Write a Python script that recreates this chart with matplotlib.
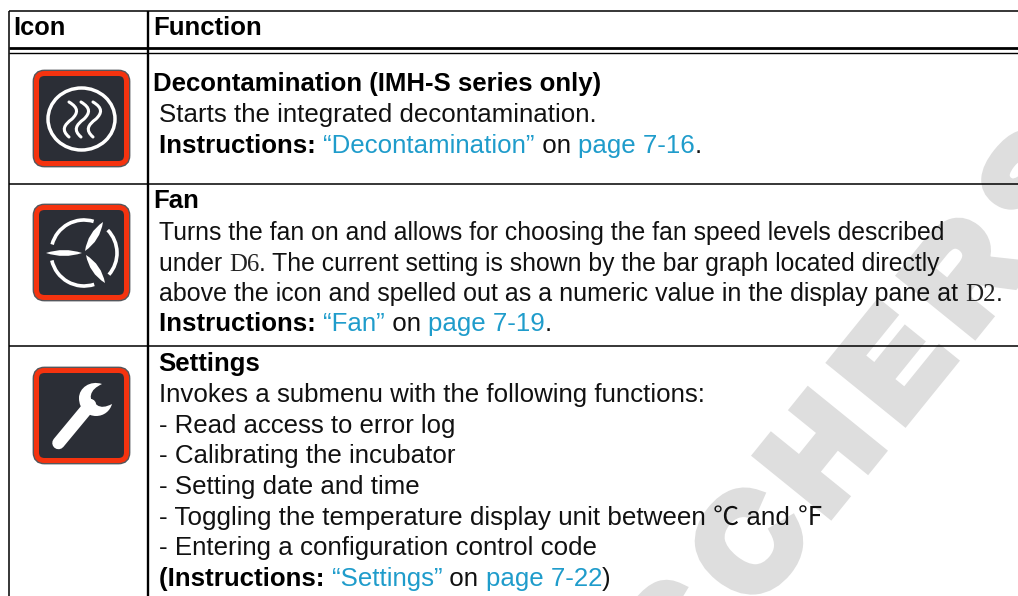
import numpy as np
import matplotlib
matplotlib.use('Agg')
import matplotlib.pyplot as plt
import matplotlib.patheffects as pe
from matplotlib.patches import FancyBboxPatch, Ellipse, Arc, PathPatch
from matplotlib.path import Path

# texto das linhas: (trecho, estilo)
header_labels = ["Icon", "Function"]

linhas_decon = [
    [("Decontamination (IMH-S series only)", "b")],
    [("Starts the integrated decontamination.", "n")],
    [("Instructions: ", "b"), ("\u201cDecontamination\u201d", "l"), (" on ", "n"), ("page 7-16", "l"), (".", "n")],
]
linhas_fan = [
    [("Fan", "b")],
    [("Turns the fan on and allows for choosing the fan speed levels described", "n")],
    [("under ", "n"), ("D6", "s"), (". The current setting is shown by the bar graph located directly", "n")],
    [("above the icon and spelled out as a numeric value in the display pane at ", "n"), ("D2", "s"), (".", "n")],
    [("Instructions: ", "b"), ("\u201cFan\u201d", "l"), (" on ", "n"), ("page 7-19", "l"), (".", "n")],
]
linhas_settings = [
    [("Settings", "b")],
    [("Invokes a submenu with the following functions:", "n")],
    [("- Read access to error log", "n")],
    [("- Calibrating the incubator", "n")],
    [("- Setting date and time", "n")],
    [("- Toggling the temperature display unit between \u2103 and \u2109", "n")],
    [("- Entering a configuration control code", "n")],
    [("(Instructions: ", "b"), ("\u201cSettings\u201d", "l"), (" on ", "n"), ("page 7-22", "l"), (")", "n")],
]
marca_letras = ["S", "C", "H", "E", "R", "S"]

# posicoes
y_decon = [91, 122, 153]
y_fan = [208, 240, 271, 301, 331]
y_settings = [371, 402, 433, 463, 494, 525, 555, 586]
x_decon = [153.5, 159, 159]
x_fan = [153.5, 159, 159, 159, 159]
x_settings = [158.5, 159, 159, 159, 159, 159, 159, 159]
tam_decon = [18.55, 18.6, 18.6]
tam_fan = [18.5, 17.8, 17.82, 18.02, 18.65]
tam_settings = [18.55, 18.6, 18.55, 18.6, 18.6, 18.72, 18.6, 18.6]
marca_x = [684, 756, 828, 900, 972, 1044]
marca_y = [640, 550, 460, 370, 280, 190]

LINK = '#1f9ccb'
estilos = {
    'n': dict(family=['Liberation Sans', 'Noto Sans CJK SC', 'DejaVu Sans'], color='#111111'),
    'b': dict(family='Liberation Sans', color='black', weight='bold'),
    'l': dict(family='Liberation Sans', color=LINK),
    's': dict(family='Liberation Serif', color='#222222'),
}

fig = plt.figure(figsize=(10.18, 5.96), dpi=100)
ax = fig.add_axes([0, 0, 1, 1])
ax.set_xlim(0, 1018)
ax.set_ylim(596, 0)
ax.axis('off')

# marca d'agua
for letra, mx, my in zip(marca_letras, marca_x, marca_y):
    ax.text(mx, my, letra, rotation=51, rotation_mode='anchor', ha='center', va='center',
            family='Liberation Sans', weight='bold', fontsize=95, color='#dedede', zorder=0,
            path_effects=[pe.withStroke(linewidth=9, foreground='#dedede', joinstyle='miter')])

# grade da tabela
for y, lw in [(11, 1.1), (48, 2.0), (53, 1.0), (184, 1.1), (346, 1.1)]:
    ax.plot([9, 1018], [y, y], color='black', lw=lw, solid_capstyle='butt', zorder=2)
ax.plot([9, 9], [11, 596], color='black', lw=1.1, solid_capstyle='butt', zorder=2)
ax.plot([148, 148], [11, 596], color='black', lw=1.7, solid_capstyle='butt', zorder=2)

ax.text(13, 35, header_labels[0], fontsize=18.3, **estilos['b'], zorder=3)
ax.text(153, 35, header_labels[1], fontsize=18.5, **estilos['b'], zorder=3)

renderer = fig.canvas.get_renderer()


def escreve(x, y, trechos, tam):
    for trecho, est in trechos:
        t = ax.text(x, y, trecho, fontsize=tam, va='baseline', zorder=3, **estilos[est])
        # largura com os espacos das pontas (mede com pontos em volta)
        t.set_text('|' + trecho + '|')
        w1 = t.get_window_extent(renderer).width
        t.set_text('||')
        w2 = t.get_window_extent(renderer).width
        t.set_text(trecho)
        x += w1 - w2


for bloco, xs, ys, tams in [(linhas_decon, x_decon, y_decon, tam_decon),
                            (linhas_fan, x_fan, y_fan, tam_fan),
                            (linhas_settings, x_settings, y_settings, tam_settings)]:
    for trechos, x, y, tam in zip(bloco, xs, ys, tams):
        escreve(x, y, trechos, tam)


def caixa(cy):
    cx = 81.5
    ax.add_patch(FancyBboxPatch((cx - 45, cy - 45), 90, 90, boxstyle='round,pad=0,rounding_size=8',
                                fc='#2b2e36', ec='#55575c', lw=5.6, zorder=3))
    ax.add_patch(FancyBboxPatch((cx - 45, cy - 45), 90, 90, boxstyle='round,pad=0,rounding_size=8',
                                fc='#2b2e36', ec='#f5330f', lw=3.6, zorder=4))


# icone 1: circulo e ondas
caixa(118.5)
ax.add_patch(Ellipse((81.5, 119), 67, 62, fc='none', ec='white', lw=2.5, zorder=5))
for x in [69, 81, 93]:
    verts = [(x, 102), (x + 10, 108), (x + 9, 113), (x + 3, 119),
             (x - 5, 125), (x - 8, 130), (x, 137)]
    codes = [Path.MOVETO, Path.CURVE4, Path.CURVE4, Path.CURVE4, Path.CURVE4, Path.CURVE4, Path.CURVE4]
    ax.add_patch(PathPatch(Path(verts, codes), fc='none', ec='white', lw=2.2, capstyle='round', zorder=5))

# icone 2: ventilador (pas em forma de lente)
caixa(252.5)
pas = [((85, 251), (103, 222), 7.5), ((82, 253), (46, 253), 6), ((86, 255), (105, 283), 7.5)]
for (x0, y0), (x1, y1), larg in pas:
    comp = np.hypot(x1 - x0, y1 - y0)
    nx, ny = -(y1 - y0) / comp * larg, (x1 - x0) / comp * larg
    mx, my = (x0 + x1) / 2, (y0 + y1) / 2
    verts = [(x0, y0), (mx + nx, my + ny), (x1, y1), (mx - nx, my - ny), (x0, y0)]
    codes = [Path.MOVETO, Path.CURVE3, Path.CURVE3, Path.CURVE3, Path.CURVE3]
    ax.add_patch(PathPatch(Path(verts, codes), fc='white', ec='none', zorder=5))
for t1, t2 in [(-165, -73), (-44, 41), (72, 167)]:
    ax.add_patch(Arc((84, 253), 66, 66, theta1=t1, theta2=t2, ec='white', lw=2.6, zorder=5))

# icone 3: chave inglesa
caixa(415.5)
ax.plot([58.5, 90], [443, 405], color='white', lw=9, solid_capstyle='round', zorder=5)
cabeca = [(102, 384), (90, 380), (79, 388), (79, 398), (79, 410), (88, 416), (96, 416),
          (104, 416), (110, 411), (112, 404), (106, 407), (101, 408), (97, 405),
          (92, 402), (90, 399), (91, 395), (92, 390), (96, 387), (102, 384)]
ax.add_patch(PathPatch(Path(cabeca, [Path.MOVETO] + [Path.CURVE4] * 18), fc='white', ec='none', zorder=5))

fig.savefig('out.png', dpi=100)
